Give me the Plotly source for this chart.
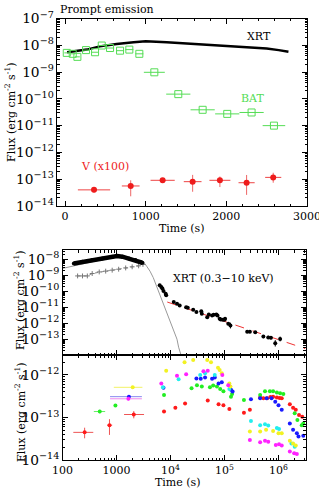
import plotly.graph_objects as go

W, H = 319, 491
FONT = "DejaVu Serif"
GREEN_BAT = "#55dd55"
RED = "#ee1c1c"

# ---------------- Top panel: prompt emission (linear time axis) ----------------
xrt_time = [25, 100, 270, 430, 640, 850, 1000, 1260, 1670, 2090, 2300, 2500, 2650, 2770]
xrt_flux = [5.5e-9, 5.9e-9, 6.9e-9, 9.1e-9, 1.12e-8, 1.29e-8, 1.4e-8, 1.29e-8, 1.07e-8,
            9.1e-9, 8.3e-9, 7.6e-9, 6.6e-9, 5.7e-9]

bat_time = [21, 95, 153, 260, 372, 455, 558, 682, 797, 921, 1107, 1404, 1706, 2011, 2313, 2590]
bat_flux = [5.2e-9, 4.8e-9, 3.7e-9, 6.6e-9, 5.5e-9, 9.8e-9, 7.9e-9, 6.3e-9, 6.9e-9, 4.8e-9,
            9.8e-10, 1.5e-10, 3.9e-11, 2.75e-11, 3.1e-11, 1.0e-11]
bat_terr = [30, 30, 30, 40, 40, 40, 50, 50, 50, 50, 130, 150, 150, 150, 150, 140]

v_time = [359, 814, 1210, 1582, 1920, 2251, 2581]
v_flux = [4.0e-14, 5.6e-14, 9.1e-14, 8.1e-14, 9.1e-14, 7.4e-14, 1.17e-13]
v_terr = [200, 110, 150, 110, 130, 100, 100]
v_ferr_hi = [0.8e-14, 3.5e-14, 1.2e-14, 6.4e-14, 3.5e-14, 7.0e-14, 5.7e-14]
v_ferr_lo = [0.8e-14, 3.3e-14, 1.2e-14, 4.7e-14, 4.0e-14, 4.8e-14, 4.3e-14]

top_xticks = [0, 1000, 2000, 3000]

# ---------------- Bottom panel: afterglow (log time), values as log10 ----------------
xrt_early_logt = [2.21, 2.37, 2.55, 2.74, 2.92, 3.01, 3.11, 3.23, 3.35, 3.44, 3.48]
xrt_early_logf = [-8.27, -8.17, -8.06, -7.96, -7.85, -7.81, -7.85, -7.96, -8.06, -8.17, -8.23]

xrt_late_logt = [3.80, 3.83, 3.85, 3.87, 3.91, 3.92, 4.06, 4.12, 4.17, 4.29, 4.32, 4.42, 4.48,
                 4.57, 4.58, 4.68, 4.71, 4.77, 4.80, 4.85, 4.87, 4.91, 4.93, 4.97, 5.00, 5.01,
                 5.07, 5.11, 5.42, 5.47, 5.57, 5.72, 5.81, 5.86, 5.94, 6.03]
xrt_late_logf = [-9.64, -9.74, -9.84, -9.99, -10.16, -10.26, -10.68, -10.79, -10.89, -11.00,
                 -11.04, -11.17, -11.31, -11.25, -11.42, -11.63, -11.46, -11.52, -11.48, -11.46,
                 -11.52, -11.73, -11.77, -11.79, -11.79, -11.73, -12.04, -12.15, -12.53, -12.53,
                 -12.57, -12.84, -12.89, -12.92, -13.26, -12.99]
xrt_late_logferr = [0.03, 0.03, 0.03, 0.03, 0.12, 0.03, 0.03, 0.03, 0.03, 0.03, 0.03, 0.03, 0.05,
                    0.03, 0.05, 0.08, 0.03, 0.03, 0.03, 0.03, 0.03, 0.05, 0.05, 0.03, 0.03, 0.03,
                    0.06, 0.18, 0.05, 0.05, 0.05, 0.10, 0.10, 0.10, 0.20, 0.15]

pl_logt = [3.94, 6.5]
pl_logf = [-10.68, -13.60]

model_logt = [2.0, 2.21, 2.4, 2.6, 2.8, 3.0, 3.2, 3.4, 3.5, 3.56, 3.62, 3.68, 3.75, 3.81,
              3.88, 3.94, 4.0, 4.06, 4.12, 4.15, 4.2]
model_logf = [-8.58, -8.42, -8.26, -8.12, -7.98, -7.86, -7.9, -8.02, -8.18, -8.45, -8.75,
              -9.15, -9.75, -10.37, -10.9, -11.42, -11.95, -12.47, -13.0, -13.5, -14.05]

batx_logt = [2.28, 2.37, 2.46, 2.55, 2.68, 2.80, 2.92, 3.04, 3.17, 3.29, 3.41, 3.49]
batx_logf = [-9.05, -9.05, -9.05, -8.9, -8.80, -8.75, -8.69, -8.63, -8.55, -8.48, -8.42, -8.33]

red_logt = [3.88, 4.09, 4.27, 4.69, 4.89, 4.98, 5.09, 5.36, 5.47, 5.66, 5.72, 5.79, 5.85, 5.90,
            5.97, 6.02, 6.06, 6.21, 6.27, 6.32, 6.38, 6.44]
red_logf = [-12.86, -12.77, -12.67, -12.60, -12.69, -12.71, -12.80, -12.89, -12.82, -12.53,
            -12.55, -12.55, -12.52, -12.51, -12.53, -12.54, -12.55, -12.69, -12.77, -12.82,
            -12.94, -12.98]
green_logt = [2.98, 3.88, 4.39, 4.49, 4.58, 4.73, 4.79, 4.86, 4.92, 4.98, 5.12, 5.14, 5.36,
              5.66, 5.75, 5.84, 5.90, 5.97, 6.03, 6.09, 6.30, 6.35, 6.43, 6.46]
green_logf = [-12.72, -12.47, -12.31, -12.24, -12.27, -12.29, -12.25, -12.27, -12.33, -12.38,
              -12.51, -12.45, -12.59, -12.47, -12.38, -12.38, -12.38, -12.41, -12.43, -12.45,
              -12.90, -13.06, -13.18, -13.14]
blue_logt = [3.87, 4.48, 4.56, 4.64, 4.77, 4.82, 4.89, 4.95, 5.12, 5.15, 5.49, 5.66, 5.78,
             5.87, 5.94, 6.00, 6.06, 6.21, 6.27, 6.34, 6.37, 6.46]
blue_logf = [-12.30, -12.08, -12.09, -12.06, -12.09, -12.06, -12.20, -12.17, -12.35, -12.39,
             -12.57, -12.55, -12.55, -12.55, -12.63, -12.71, -12.82, -13.14, -13.29, -13.37,
             -13.45, -13.43]
cyan_logt = [3.86, 4.15, 4.55, 4.64, 4.82, 5.09, 5.49, 5.66, 5.75, 5.81, 5.97, 6.01, 6.24, 6.30]
cyan_logf = [-12.29, -12.10, -12.00, -11.96, -12.00, -12.33, -13.08, -13.18, -13.16, -13.19,
             -13.25, -13.27, -13.61, -13.69]
yellow_logt = [3.92, 4.26, 4.42, 4.68, 4.75, 4.88, 4.91, 4.95, 5.09, 5.11, 5.47, 5.66, 5.77,
               5.90, 6.00, 6.06, 6.21, 6.27, 6.32]
yellow_logf = [-11.90, -11.70, -11.65, -11.65, -11.70, -11.83, -11.88, -11.96, -12.20, -12.27,
               -13.33, -13.33, -13.29, -13.32, -13.37, -13.37, -13.55, -13.61, -13.66]
magenta_logt = [3.83, 4.12, 4.29, 4.61, 4.69, 4.96, 5.07, 5.47, 5.66, 5.75, 5.81, 5.95, 6.01,
                6.06, 6.21, 6.29, 6.34]
magenta_logf = [-12.20, -12.02, -11.98, -11.91, -11.90, -12.00, -12.24, -13.53, -13.58, -13.55,
                -13.57, -13.65, -13.63, -13.66, -13.80, -13.84, -13.86]

# early UVOT points with error bars (log10 bounds)
early_name = ["red", "red", "red", "green", "yellow", "blue", "magenta"]
early_logt = [2.41, 2.87, 3.32, 2.69, 3.30, 3.23, 3.22]
early_logf = [-13.35, -13.18, -12.93, -12.86, -12.29, -12.51, -12.56]
early_xlo = [2.20, 2.83, 3.14, 2.58, 2.95, 2.88, 2.88]
early_xhi = [2.57, 2.92, 3.51, 2.79, 3.48, 3.47, 3.47]
early_ylo = [-13.49, -13.41, -13.02, -12.90, -12.32, -12.55, -12.60]
early_yhi = [-13.24, -13.04, -12.85, -12.82, -12.26, -12.47, -12.52]

bottom_xtickvals = [100, 1000, 1e4, 1e5, 1e6]
bottom_xticktext = ["100", "1000", "10<sup>4</sup>", "10<sup>5</sup>", "10<sup>6</sup>"]

COLORS = {"red": "#ff1a1a", "green": "#22ee22", "blue": "#1a1aff",
          "cyan": "#22eeee", "yellow": "#f2f222", "magenta": "#ff22ff"}
ERRCOL = {"red": "#ee5555", "green": "#66ee66", "blue": "#8888ee",
          "cyan": "#66eeee", "yellow": "#f2f266", "magenta": "#ee88ee"}


def p(v):
    return [10 ** a for a in v]


def px(x):
    return x / W


def py(y):
    return 1 - y / H


fig = go.Figure()

# --- top panel
fig.add_trace(go.Scatter(x=xrt_time, y=xrt_flux, mode="lines",
                         line=dict(color="black", width=2.5), xaxis="x", yaxis="y"))
fig.add_trace(go.Scatter(x=bat_time, y=bat_flux, mode="markers",
                         marker=dict(symbol="square-open", size=7, color=GREEN_BAT,
                                     line=dict(width=1, color=GREEN_BAT)),
                         error_x=dict(type="data", array=bat_terr, color=GREEN_BAT,
                                      thickness=1, width=0),
                         xaxis="x", yaxis="y"))
fig.add_trace(go.Scatter(x=v_time, y=v_flux, mode="markers",
                         marker=dict(symbol="circle", size=6, color=RED),
                         error_x=dict(type="data", array=v_terr, color="#ee4444",
                                      thickness=1, width=0),
                         error_y=dict(type="data", symmetric=False, array=v_ferr_hi,
                                      arrayminus=v_ferr_lo, color="#ee6666",
                                      thickness=1, width=0),
                         xaxis="x", yaxis="y"))

# --- bottom upper subplot (XRT)
fig.add_trace(go.Scatter(x=p(model_logt), y=p(model_logf), mode="lines",
                         line=dict(color="#999999", width=1), xaxis="x2", yaxis="y2"))
fig.add_trace(go.Scatter(x=p(batx_logt), y=p(batx_logf), mode="lines+markers",
                         line=dict(color="#888888", width=1, dash="dot"),
                         marker=dict(symbol="cross-thin", size=3.5,
                                     line=dict(color="#777777", width=1)),
                         xaxis="x2", yaxis="y2"))
fig.add_trace(go.Scatter(x=p(xrt_early_logt), y=p(xrt_early_logf), mode="lines+markers",
                         line=dict(color="black", width=4.5), marker=dict(size=4, color="black"),
                         xaxis="x2", yaxis="y2"))
fig.add_trace(go.Scatter(x=p(pl_logt), y=p(pl_logf), mode="lines",
                         line=dict(color="#ee3333", width=1, dash="dash"),
                         xaxis="x2", yaxis="y2"))
late_f = p(xrt_late_logf)
late_hi = [10 ** (a + e) - 10 ** a for a, e in zip(xrt_late_logf, xrt_late_logferr)]
late_lo = [10 ** a - 10 ** (a - e) for a, e in zip(xrt_late_logf, xrt_late_logferr)]
fig.add_trace(go.Scatter(x=p(xrt_late_logt), y=late_f, mode="markers",
                         marker=dict(size=4, color="black"),
                         error_y=dict(type="data", symmetric=False, array=late_hi,
                                      arrayminus=late_lo, color="black", thickness=1, width=0),
                         xaxis="x2", yaxis="y2"))

# --- bottom lower subplot (UVOT)
for name, lt, lf in [("red", red_logt, red_logf), ("green", green_logt, green_logf),
                     ("blue", blue_logt, blue_logf), ("cyan", cyan_logt, cyan_logf),
                     ("yellow", yellow_logt, yellow_logf),
                     ("magenta", magenta_logt, magenta_logf)]:
    fig.add_trace(go.Scatter(x=p(lt), y=p(lf), mode="markers",
                             marker=dict(size=4, color=COLORS[name]),
                             xaxis="x3", yaxis="y3"))

for i, name in enumerate(early_name):
    t = 10 ** early_logt[i]
    f = 10 ** early_logf[i]
    fig.add_trace(go.Scatter(
        x=[t], y=[f], mode="markers", marker=dict(size=4, color=COLORS[name]),
        error_x=dict(type="data", symmetric=False, array=[10 ** early_xhi[i] - t],
                     arrayminus=[t - 10 ** early_xlo[i]], color=ERRCOL[name],
                     thickness=1, width=0),
        error_y=dict(type="data", symmetric=False, array=[10 ** early_yhi[i] - f],
                     arrayminus=[f - 10 ** early_ylo[i]], color=ERRCOL[name],
                     thickness=1, width=0),
        xaxis="x3", yaxis="y3"))

axcommon = dict(showline=True, linecolor="black", linewidth=1, mirror="allticks",
                ticks="inside", ticklen=5, tickcolor="black", showgrid=False,
                zeroline=False, automargin=False, ticklabeloverflow="allow",
                tickfont=dict(family=FONT, size=11, color="black"))
minor_log = dict(ticks="inside", ticklen=2.5, tickcolor="black", dtick="D1", showgrid=False)

fig.update_layout(
    width=W, height=H, margin=dict(l=0, r=0, t=0, b=0, autoexpand=False),
    paper_bgcolor="white", plot_bgcolor="white", showlegend=False,
    font=dict(family=FONT, size=11, color="black"),
    xaxis=dict(domain=[px(57), px(307)], range=[-100, 3000], anchor="y",
               tickvals=top_xticks, ticktext=[str(v) for v in top_xticks],
               minor=dict(ticks="inside", ticklen=2.5, tickcolor="black", dtick=200,
                          showgrid=False), **axcommon),
    yaxis=dict(domain=[py(206), py(18.5)], type="log", range=[-14, -7], anchor="x",
               dtick=1, exponentformat="power", minor=minor_log, **axcommon),
    xaxis2=dict(domain=[px(62.5), px(305.5)], type="log", range=[2, 6.5], anchor="y2",
                showticklabels=False, minor=minor_log, **axcommon),
    yaxis2=dict(domain=[py(355), py(250)], type="log", range=[-13.99, -7.43], anchor="x2",
                dtick=1, exponentformat="power", minor=minor_log, **axcommon),
    xaxis3=dict(domain=[px(62.5), px(305.5)], type="log", range=[2, 6.5], anchor="y3",
                tickvals=bottom_xtickvals, ticktext=bottom_xticktext, minor=minor_log,
                **axcommon),
    yaxis3=dict(domain=[py(460), py(355)], type="log", range=[-14, -11.53], anchor="x3",
                dtick=1, exponentformat="power", minor=minor_log, **axcommon),
)

flux_title = "Flux (erg cm<sup>-2</sup> s<sup>-1</sup>)"
ann = [
    dict(text="Prompt emission", x=px(58), y=py(10), xanchor="left", yanchor="middle"),
    dict(text="XRT", x=px(259), y=py(37), xanchor="center", yanchor="middle"),
    dict(text="BAT", x=px(252), y=py(98), xanchor="center", yanchor="middle",
         font=dict(family=FONT, size=11, color=GREEN_BAT)),
    dict(text="V (x100)", x=px(105), y=py(167), xanchor="center", yanchor="middle",
         font=dict(family=FONT, size=11, color=RED)),
    dict(text="Time (s)", x=px(182), y=py(228), xanchor="center", yanchor="middle"),
    dict(text=flux_title, x=px(10), y=py(112), textangle=-90, xanchor="center",
         yanchor="middle"),
    dict(text="XRT (0.3\u221210 keV)", x=px(223), y=py(278), xanchor="center",
         yanchor="middle"),
    dict(text=flux_title, x=px(19), y=py(300), textangle=-90, xanchor="center",
         yanchor="middle"),
    dict(text=flux_title, x=px(20), y=py(412), textangle=-90, xanchor="center",
         yanchor="middle"),
    dict(text="Time (s)", x=px(178), y=py(482), xanchor="center", yanchor="middle"),
]
for a in ann:
    a.setdefault("font", dict(family=FONT, size=11, color="black"))
    fig.add_annotation(xref="paper", yref="paper", showarrow=False, **a)

fig.write_html("out.html", config={"displayModeBar": False},
               post_script="document.body.style.margin='0px';"
                           "document.body.style.overflow='hidden';")
